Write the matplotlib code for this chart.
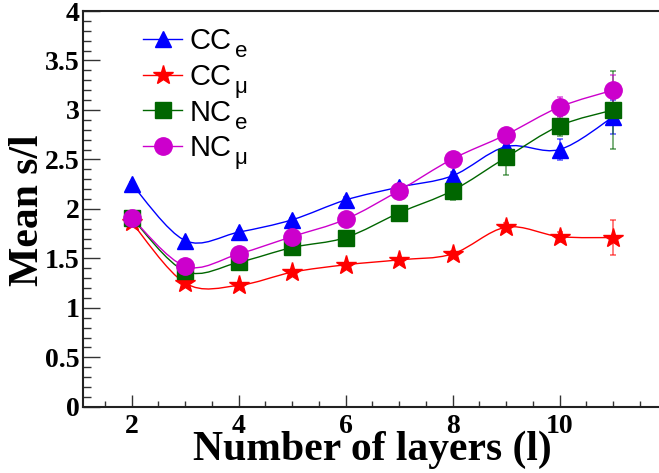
import numpy as np
import matplotlib
matplotlib.use("Agg")
import matplotlib.pyplot as plt
from matplotlib.path import Path
from matplotlib.patches import PathPatch
from matplotlib.lines import Line2D
from matplotlib.font_manager import FontProperties

plt.rcParams['font.family'] = 'Liberation Serif'
plt.rcParams['font.weight'] = 'bold'
plt.rcParams['axes.labelweight'] = 'bold'
plt.rcParams['xtick.labelsize'] = 20
plt.rcParams['ytick.labelsize'] = 20

layers = [2, 3, 4, 5, 6, 7, 8, 9, 10, 11]

cc_e = [2.25, 1.68, 1.765, 1.89, 2.09, 2.22, 2.335, 2.63, 2.60, 2.93]
cc_e_err = [0.02, 0.02, 0.02, 0.02, 0.03, 0.03, 0.04, 0.05, 0.11, 0.17]

cc_mu = [1.865, 1.25, 1.227, 1.36, 1.435, 1.485, 1.545, 1.815, 1.72, 1.71]
cc_mu_err = [0.02, 0.02, 0.02, 0.02, 0.02, 0.02, 0.03, 0.04, 0.05, 0.18]

nc_e = [1.91, 1.37, 1.46, 1.61, 1.71, 1.96, 2.185, 2.52, 2.84, 3.00]
nc_e_err = [0.02, 0.02, 0.02, 0.02, 0.02, 0.03, 0.10, 0.18, 0.10, 0.39]

nc_mu = [1.91, 1.42, 1.545, 1.72, 1.895, 2.185, 2.505, 2.75, 3.03, 3.20]
nc_mu_err = [0.02, 0.02, 0.02, 0.02, 0.02, 0.03, 0.04, 0.05, 0.10, 0.15]

names = ['CC', 'CC', 'NC', 'NC']
subs = ['e', 'μ', 'e', 'μ']


def smooth_path(x, y):
    # catmull-rom as bezier segments, like ROOT's "C" option
    x = np.asarray(x, float)
    y = np.asarray(y, float)
    px = np.concatenate([[x[0]], x, [x[-1]]])
    py = np.concatenate([[y[0]], y, [y[-1]]])
    verts = [(x[0], y[0])]
    codes = [Path.MOVETO]
    for i in range(1, len(px) - 2):
        c1 = (px[i] + (px[i + 1] - px[i - 1]) / 6, py[i] + (py[i + 1] - py[i - 1]) / 6)
        c2 = (px[i + 1] - (px[i + 2] - px[i]) / 6, py[i + 1] - (py[i + 2] - py[i]) / 6)
        verts += [c1, c2, (px[i + 1], py[i + 1])]
        codes += [Path.CURVE4] * 3
    return Path(verts, codes)


fig = plt.figure(figsize=(6.59, 4.73), dpi=100)
ax = fig.add_axes([0.1255, 0.140, 0.8745, 0.8367])

series = [
    (cc_e, cc_e_err, '#0000ff', '^', 12),
    (cc_mu, cc_mu_err, '#ff0000', '*', 15),
    (nc_e, nc_e_err, '#006600', 's', 12),
    (nc_mu, nc_mu_err, '#cc00cc', 'o', 12.5),
]

handles = []
for vals, errs, col, mk, ms in series:
    ax.add_patch(PathPatch(smooth_path(layers, vals), fill=False, edgecolor=col, lw=1.0, zorder=2))
    ax.errorbar(layers, vals, yerr=errs, fmt='none', ecolor=col, elinewidth=1.2,
                capsize=2, capthick=1.2, alpha=0.6, zorder=3)
    ax.plot(layers, vals, ls='none', marker=mk, ms=ms, color=col, mec=col, zorder=4)
    handles.append(Line2D([], [], color=col, lw=1.0, marker=mk, ms=ms, mec=col))

ax.set_xlim(1.084, 11.86)
ax.set_ylim(0, 4)

ax.set_xticks([2, 4, 6, 8, 10])
ax.set_xticks(np.arange(1.5, 11.6, 0.5), minor=True)
ax.set_yticks([0, 0.5, 1, 1.5, 2, 2.5, 3, 3.5, 4])
ax.set_yticklabels(['0', '0.5', '1', '1.5', '2', '2.5', '3', '3.5', '4'])
ax.set_yticks(np.arange(0, 4.01, 0.1), minor=True)

ax.tick_params(axis='both', which='both', direction='in', width=1, color='#333333')
ax.tick_params(axis='y', which='major', length=12, pad=2)
ax.tick_params(axis='y', which='minor', length=6)
ax.tick_params(axis='x', which='major', length=9, pad=5)
ax.tick_params(axis='x', which='minor', length=4.5)

for s in ['left', 'bottom', 'top']:
    ax.spines[s].set_linewidth(1.5)
    ax.spines[s].set_color('#222222')
ax.spines['right'].set_visible(False)

ax.set_xlabel('Number of layers (l)', fontsize=30, fontweight='bold')
ax.set_ylabel('Mean s/l', fontsize=30, fontweight='bold')
ax.xaxis.set_label_coords(0.503, -0.1347)
ax.xaxis.label.set_va('baseline')
ax.yaxis.set_label_coords(-0.0949, 0.497)
ax.yaxis.label.set_va('center')

leg_font = FontProperties(family='Liberation Sans', weight='normal', size=21)
leg = ax.legend(handles, names, loc='upper left', bbox_to_anchor=(0.1046, 0.96),
                frameon=False, prop=leg_font, borderaxespad=0,
                handlelength=1.35, handletextpad=0.25, labelspacing=0.27, borderpad=0)

# subscripts next to each legend label
fig.canvas.draw()
rend = fig.canvas.get_renderer()
_, _, lp_d = rend.get_text_width_height_descent('lp', leg_font, ismath=False)
W, H = fig.bbox.width, fig.bbox.height
for t, sub in zip(leg.get_texts(), subs):
    bb = t.get_window_extent(rend)
    base = bb.y0 + lp_d
    fig.text((bb.x1 + 3) / W, (base - 8) / H, sub, family='Liberation Sans',
             weight='normal', size=16, va='baseline', ha='left')

fig.savefig('out.png', dpi=100)
